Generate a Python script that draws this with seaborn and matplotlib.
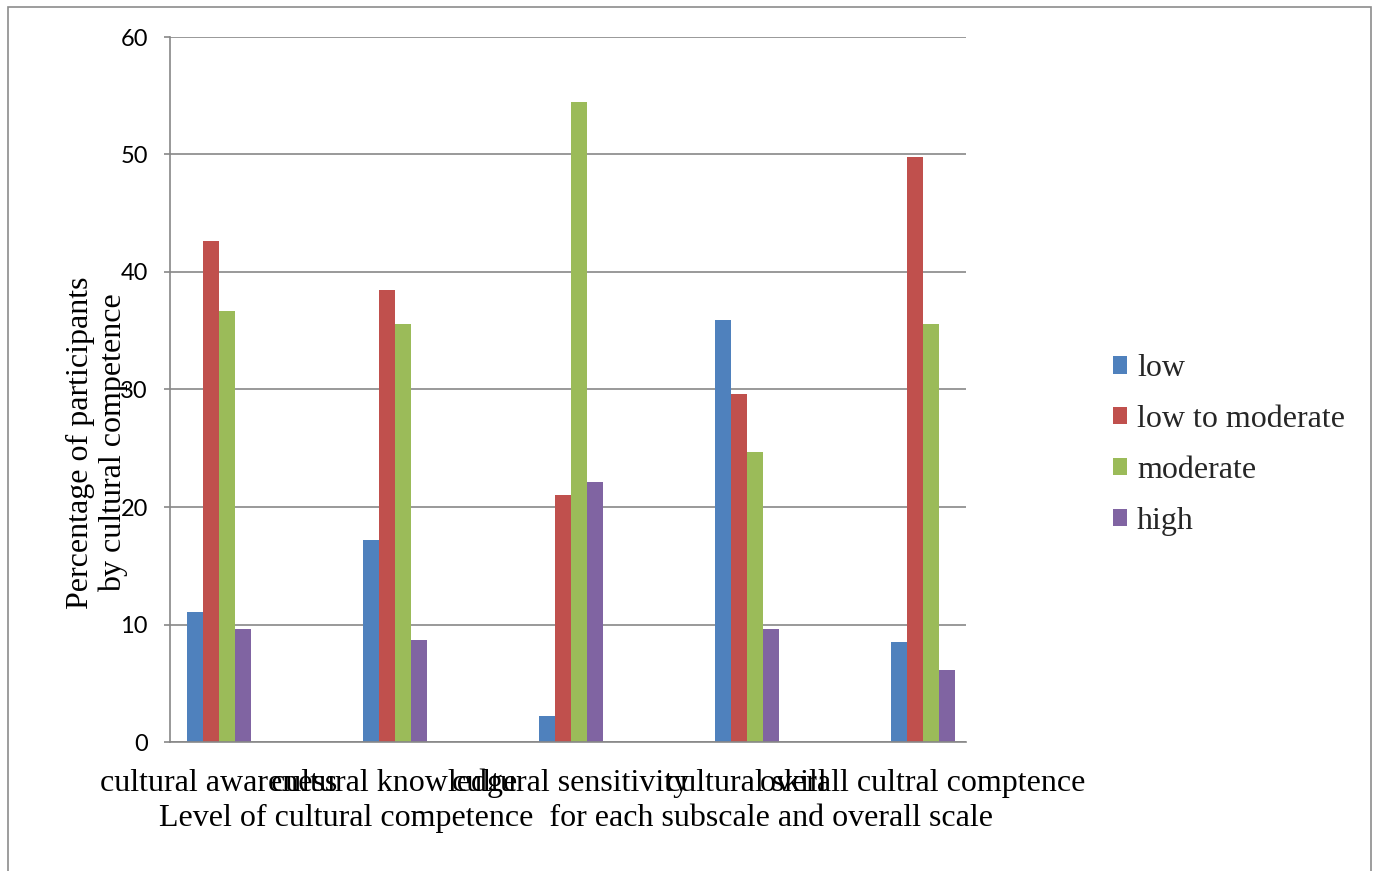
import matplotlib
matplotlib.use("Agg")
import matplotlib.pyplot as plt
import seaborn as sns
import pandas as pd
from matplotlib.patches import Patch, Rectangle

# Share of participants (%) at each level of cultural competence
categories = ["cultural awareness", "cultural knowledge", "cultural sensitivity",
              "cultural skill", "overall cultral comptence"]
levels = ["low", "low to moderate", "moderate", "high"]
low = [11.1, 17.2, 2.2, 35.9, 8.5]
low_to_moderate = [42.6, 38.5, 21.0, 29.6, 49.8]
moderate = [36.7, 35.6, 54.5, 24.7, 35.6]
high = [9.6, 8.7, 22.1, 9.6, 6.1]
colors = ["#4F81BD", "#C0504D", "#9BBB59", "#8064A2"]
y_ticks = [0, 10, 20, 30, 40, 50, 60]

series = dict(zip(levels, [low, low_to_moderate, moderate, high]))
df = pd.DataFrame(
    [(cat, lvl, vals[i]) for lvl, vals in series.items() for i, cat in enumerate(categories)],
    columns=["subscale", "level", "percent"],
)

sns.set_theme(style="white")
plt.rcParams["font.family"] = ["Liberation Serif", "DejaVu Serif"]

W, H = 1377, 871
fig = plt.figure(figsize=(W / 100, H / 100), dpi=100)
fig.patch.set_facecolor("white")
ax = fig.add_axes([170 / W, 1 - 742 / H, 796 / W, 705 / H])

sns.barplot(data=df, x="subscale", y="percent", hue="level",
            order=categories, hue_order=levels,
            palette=dict(zip(levels, colors)), saturation=1,
            width=0.364, errorbar=None, legend=False, ax=ax, linewidth=0)

grey = "#878787"
ax.set_xlim(-0.276, 4.247)
ax.set_ylim(0, 60)
ax.set_yticks(y_ticks)
ax.set_axisbelow(True)
ax.yaxis.grid(True, color=grey, linewidth=1.2)
ax.xaxis.grid(False)
for side in ("top", "right"):
    ax.spines[side].set_visible(False)
for side in ("left", "bottom"):
    ax.spines[side].set_color(grey)
    ax.spines[side].set_linewidth(1.2)

ax.tick_params(axis="y", left=True, length=4, width=1.2, color=grey, pad=12,
               labelsize=17, labelcolor="black")
for t in ax.get_yticklabels():
    t.set_family("Lato")
ax.tick_params(axis="x", bottom=False, length=0, pad=35, labelsize=23, labelcolor="black")
for t in ax.get_xticklabels():
    t.set_verticalalignment("baseline")
ax.set_xlabel("")
ax.set_ylabel("")

fig.text(576 / W, 1 - 818 / H,
         "Level of cultural competence  for each subscale and overall scale",
         ha="center", va="center", fontsize=23, color="black")
fig.text(97 / W, 1 - 443 / H, "Percentage of participants\nby cultural competence",
         rotation=90, ha="center", va="center", multialignment="center",
         fontsize=23, linespacing=1.18, color="black")

handles = [Patch(facecolor=c, edgecolor="none") for c in colors]
fig.legend(handles, levels, loc="center left", bbox_to_anchor=(1113 / W, 1 - 445 / H),
           frameon=False, borderpad=0, borderaxespad=0, handlelength=0.45,
           handleheight=0.45, handletextpad=0.3, labelspacing=0.68,
           prop={"family": "Liberation Serif", "size": 23})

fig.patches.append(Rectangle((8 / W, -0.05), (1371 - 8) / W, 1 - 7 / H + 0.05,
                             transform=fig.transFigure, fill=False,
                             edgecolor="#8c8c8c", linewidth=1.2))

fig.savefig("out.png", dpi=100)
